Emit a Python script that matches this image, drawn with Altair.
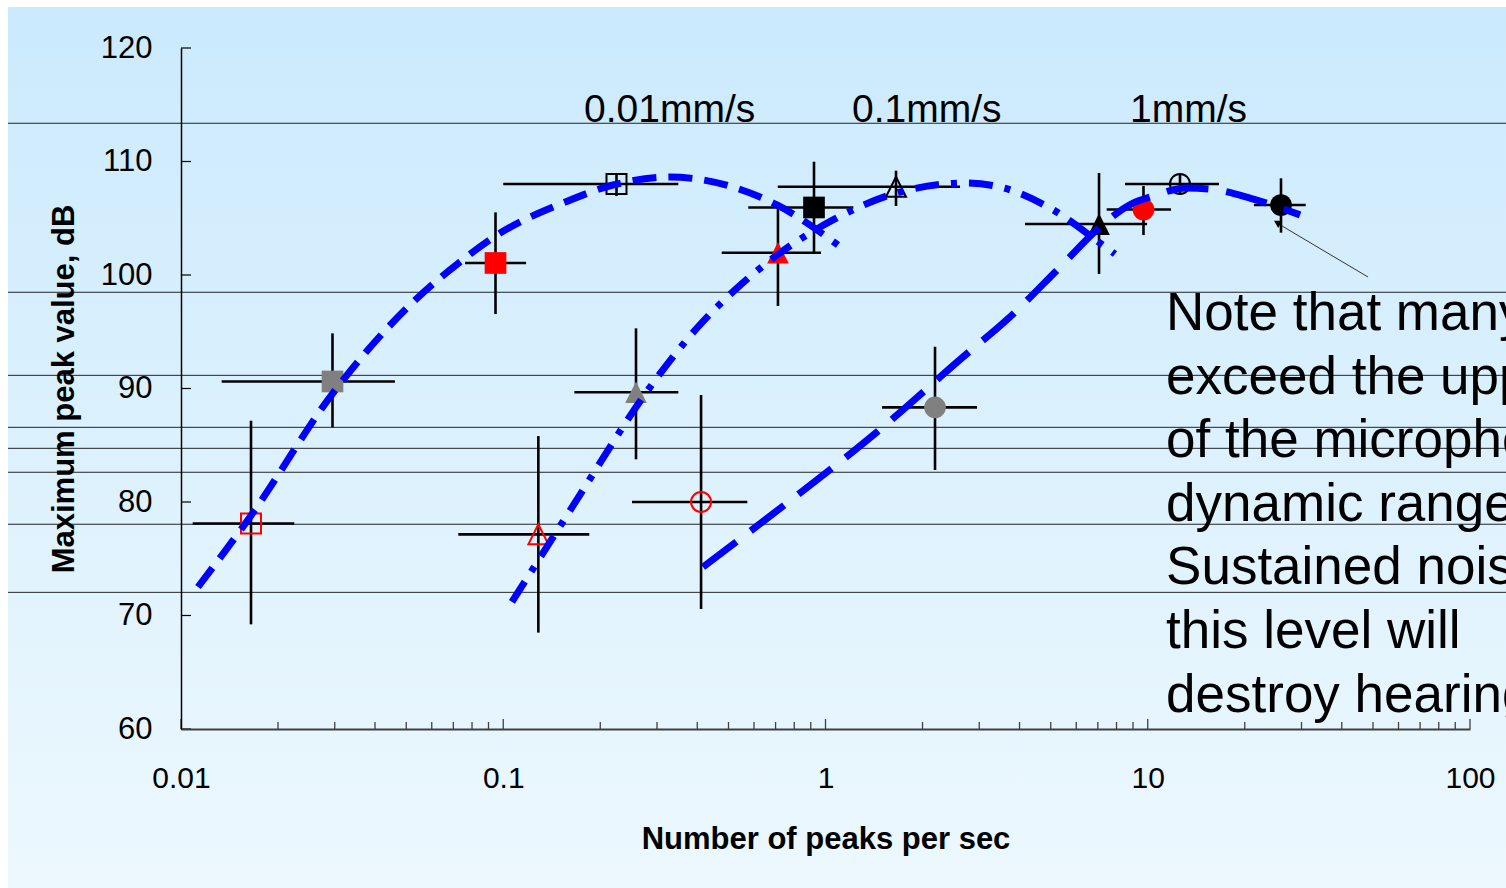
import altair as alt
import pandas as pd

FONT = "Liberation Sans"
TRI = "M-1,1L0,-1L1,1Z"

# ---------------- data ----------------
# 15 measured points: squares, triangles, circles (open red, grey, filled red, open black, filled black)
m_shape = ["square"] * 5 + [TRI] * 5 + ["circle"] * 5
m_colour = ["#FF0000", "#808080", "#FF0000", "#000000", "#000000"] * 3
m_filled = [False, True, True, False, True] * 3
m_x = [0.01649, 0.02952, 0.09462, 0.2246, 0.9211,
       0.1285, 0.2582, 0.7120, 1.655, 7.06,
       0.4110, 2.187, 9.700, 12.59, 25.91]
m_y = [78.11, 90.62, 101.06, 108.02, 105.95,
       77.15, 89.67, 101.96, 107.78, 104.49,
       80.0, 88.34, 105.77, 108.02, 106.17]
m_xlo = [0.01087, 0.01337, 0.07611, 0.1000, 0.5759,
         0.07253, 0.1662, 0.4764, 0.7109, 4.160,
         0.2509, 1.498, 7.458, 8.50, 21.36]
m_xhi = [0.02247, 0.04613, 0.1177, 0.3494, 1.220,
         0.1849, 0.3494, 0.9683, 2.615, 9.947,
         0.5720, 2.953, 11.81, 16.64, 30.92]
m_ylo = [69.22, 86.58, 96.56, 106.96, 101.91,
         68.49, 83.76, 97.27, 106.08, 100.09,
         70.57, 82.82, 103.52, 107.05, 103.73]
m_yhi = [87.16, 94.86, 105.52, 108.99, 109.98,
         85.81, 95.30, 105.93, 109.19, 108.99,
         89.43, 93.68, 107.84, 108.87, 108.52]

# fitted curves
c1_x = [0.01129, 0.01637, 0.02962, 0.05136, 0.07339, 0.09563, 0.1532, 0.2191, 0.3292, 0.5164, 0.7072, 1.0934]
c1_y = [72.51, 78.68, 89.60, 97.36, 101.15, 103.52, 106.34, 107.93, 108.63, 107.75, 106.17, 102.64]
c2_x = [0.1064, 0.1397, 0.1768, 0.2715, 0.3993, 0.5313, 0.7224, 1.0551, 1.7026, 2.749, 3.4785, 4.9737, 7.110, 7.913]
c2_y = [71.19, 76.48, 81.06, 89.25, 95.33, 98.85, 101.94, 104.85, 107.31, 108.11, 107.75, 105.90, 102.82, 101.85]
c3_x = [0.4168, 0.7594, 1.4449, 2.677, 3.650, 5.343, 7.110, 9.000, 10.16, 13.24, 16.40, 20.76, 29.69]
c3_y = [74.27, 79.91, 86.17, 92.80, 96.04, 100.70, 104.23, 106.34, 106.87, 107.67, 107.49, 106.78, 105.29]

# speed labels
s_text = ["0.01mm/s", "0.1mm/s", "1mm/s"]
s_x = [0.1781, 1.208, 8.81]
s_y = [113.48, 113.48, 113.48]

# note
note_lines = ["Note that many peaks", "exceed the upper limit", "of the microphone",
              "dynamic range.", "Sustained noise at", "this level will", "destroy hearing"]
note_x = [11.397]
note_y = [95.15]

# arrow from note to the last point
arr_x = [48.27]
arr_x2 = [26.10]
arr_y = [99.82]
arr_y2 = [104.32]
head_x = [25.4]
head_y = [104.45]

# slide background lines (dB positions)
slide_lines = [113.37, 98.48, 91.16, 86.58, 84.73, 82.62, 78.04, 72.04]

# axis ticks
y_tick_vals = [60, 70, 80, 90, 100, 110, 120]
x_major = [0.01, 0.1, 1, 10, 100]
x_minor = [k * d for d in [0.01, 0.1, 1, 10] for k in range(2, 10)]

# ---------------- chart ----------------
W, H = 1289, 681
xs = alt.Scale(type="log", domain=[0.01, 100])
ys = alt.Scale(domain=[60, 120])

x_axis = alt.Axis(values=x_major, format="~g", ticks=False, grid=False, zindex=2,
                  domainColor="#404040", domainWidth=2,
                  labelFont=FONT, labelFontSize=30, labelColor="black",
                  labelPadding=34, labelFlush=False, labelOverlap=False,
                  title="Number of peaks per sec", titleFont=FONT, titleFontSize=31,
                  titleFontWeight="bold", titleColor="black",
                  titleX=W / 2, titleY=119, titleBaseline="alphabetic", titleAlign="center")
y_axis = alt.Axis(values=y_tick_vals, ticks=False, grid=False, zindex=2,
                  domainColor="black", domainWidth=1.5,
                  labelFont=FONT, labelFontSize=31, labelColor="black",
                  labelPadding=29, labelFlush=False, labelOverlap=False,
                  title="Maximum peak value, dB", titleFont=FONT, titleFontSize=31,
                  titleFontWeight="bold", titleColor="black",
                  titleX=-108, titleY=H / 2, titleBaseline="alphabetic", titleAlign="center",
                  titleAngle=270)


def X(f):
    return alt.X(f, type="quantitative", scale=xs, axis=x_axis)


def Y(f):
    return alt.Y(f, type="quantitative", scale=ys, axis=y_axis)


pts = pd.DataFrame({
    "shape": m_shape, "colour": m_colour,
    "fill": [c if f else "transparent" for c, f in zip(m_colour, m_filled)],
    "sw": [0 if f else 2 for f in m_filled],
    "size": [470 if f else 400 for f in m_filled],
    "x": m_x, "y": m_y, "xlo": m_xlo, "xhi": m_xhi, "ylo": m_ylo, "yhi": m_yhi,
})

one = pd.DataFrame({"k": [0]})

bg = alt.Chart(one).mark_rect(
    fill=alt.Gradient(gradient="linear",
                      stops=[alt.GradientStop(color="#CBEAFD", offset=0),
                             alt.GradientStop(color="#EDF8FE", offset=1)],
                      x1=0, x2=0, y1=0, y2=1)
).encode(x=alt.value(-173), x2=alt.value(1325), y=alt.value(-41), y2=alt.value(840))

slide = alt.Chart(pd.DataFrame({"y": slide_lines})).mark_rule(
    color="black", strokeWidth=1, opacity=0.85
).encode(y=Y("y"), x=alt.value(-173), x2=alt.value(1325))

yticks = alt.Chart(pd.DataFrame({"y": y_tick_vals})).mark_rule(
    color="black", strokeWidth=1.2
).encode(y=Y("y"), x=alt.value(0), x2=alt.value(10))

xmaj = alt.Chart(pd.DataFrame({"x": x_major})).mark_rule(
    color="#404040", strokeWidth=1.3
).encode(x=X("x"), y=alt.value(H), y2=alt.value(H - 10))

xmin = alt.Chart(pd.DataFrame({"x": x_minor})).mark_rule(
    color="#404040", strokeWidth=1.3
).encode(x=X("x"), y=alt.value(H), y2=alt.value(H - 7))

hbars = alt.Chart(pts).mark_rule(color="black", strokeWidth=2.6).encode(
    x=X("xlo"), x2="xhi", y=Y("y"))
vbars = alt.Chart(pts).mark_rule(color="black", strokeWidth=2.6).encode(
    x=X("x"), y=Y("ylo"), y2="yhi")

markers = alt.Chart(pts).mark_point(filled=True, opacity=1).encode(
    x=X("x"), y=Y("y"),
    shape=alt.Shape("shape:N", scale=None),
    fill=alt.Fill("fill:N", scale=None),
    stroke=alt.Stroke("colour:N", scale=None),
    strokeWidth=alt.StrokeWidth("sw:Q", scale=None),
    size=alt.Size("size:Q", scale=None),
)


def curve(xv, yv, dash):
    df = pd.DataFrame({"x": xv, "y": yv, "o": list(range(len(xv)))})
    return alt.Chart(df).mark_line(
        color="#0000FF", strokeWidth=7, strokeDash=dash, strokeCap="butt",
        interpolate="monotone"
    ).encode(x=X("x"), y=Y("y"), order="o:Q")


cur1 = curve(c1_x, c1_y, [24, 12])
cur2 = curve(c2_x, c2_y, [24, 12, 6, 12])
cur3 = curve(c3_x, c3_y, [42, 18])

speed = alt.Chart(pd.DataFrame({"x": s_x, "y": s_y, "t": s_text})).mark_text(
    align="left", baseline="alphabetic", font=FONT, fontSize=39, color="black"
).encode(x=X("x"), y=Y("y"), text="t:N")

note = alt.Chart(pd.DataFrame({"x": note_x, "y": note_y})).mark_text(
    text=note_lines, align="left", baseline="alphabetic", font=FONT,
    fontSize=53, lineHeight=63.6, color="black"
).encode(x=X("x"), y=Y("y"))

arrow = alt.Chart(pd.DataFrame({"x": arr_x, "x2": arr_x2, "y": arr_y, "y2": arr_y2})).mark_rule(
    color="#333333", strokeWidth=1
).encode(x=X("x"), x2="x2", y=Y("y"), y2="y2")

head = alt.Chart(pd.DataFrame({"x": head_x, "y": head_y})).mark_point(
    shape="triangle-down", filled=True, color="black", size=70, opacity=1
).encode(x=X("x"), y=Y("y"))

chart = alt.layer(
    bg, slide, yticks, xmaj, xmin, hbars, vbars, markers, cur1, cur2, cur3,
    speed, note, arrow, head
).properties(
    width=W, height=H,
    padding={"left": 181, "top": 48, "right": 36, "bottom": 159},
    autosize=alt.AutoSizeParams(type="none"),
    background="white",
).configure_view(stroke=None)

chart.save("out.html", embed_options={"renderer": "svg", "actions": False})
